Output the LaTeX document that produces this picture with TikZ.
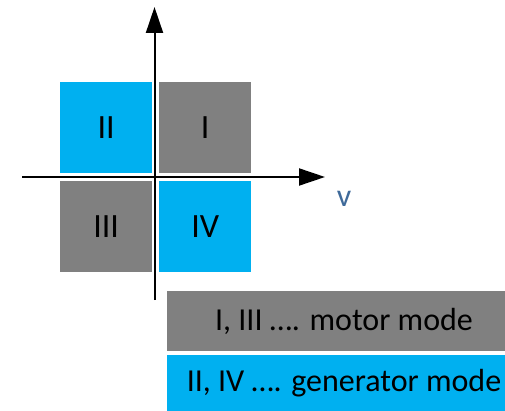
\documentclass[tikz,border=0pt]{standalone}
\usepackage{fontspec}
\setmainfont{Carlito}
\usepackage{xcolor}
\usepackage{tikz}
\usetikzlibrary{arrows.meta, positioning}
\definecolor{modecyan}{HTML}{00B0F0}
\definecolor{modegrey}{HTML}{808080}
\definecolor{axislabel}{HTML}{3F6A9A}

\begin{document}
\begin{tikzpicture}[
  x=1pt, y=-1pt,
  quad/.style={rectangle, inner sep=0pt, minimum width=92pt, minimum height=91pt, anchor=north west, font=\fontsize{34}{34}\selectfont},
  motor/.style={quad, fill=modegrey},
  gen/.style={quad, fill=modecyan},
  legend/.style={inner sep=0pt, font=\fontsize{32}{32}\selectfont},
  axis/.style={-{Triangle[length=26pt, width=17pt]}, line width=2pt}
]
\useasboundingbox (0,0) rectangle (505,411);
\node[gen] (qII) at (60,82) {II};
\node[motor] (qI) at (159,82) {I};
\node[motor] (qIII) at (60,181) {III};
\node[gen] (qIV) at (159,181) {IV};

\coordinate (ybot) at (154.5,300);
\coordinate (ytop) at (154.5,7);
\coordinate (xleft) at (22,177);
\coordinate (xright) at (325,177);
\draw[axis] (ybot) -- (ytop);
\draw[axis] (xleft) -- (xright);
\node[text=axislabel, font=\fontsize{32}{32}\selectfont] (vlabel) at (344,199) {v};

% legend
\fill[modegrey] (167,291) rectangle (505,351);
\fill[modecyan] (167,355) rectangle (505,411);
\node[legend] (motortext) at (344,321) {I, III …. motor mode};
\node[legend] (gentext) at (344,383) {II, IV …. generator mode};
\end{tikzpicture}
\end{document}
